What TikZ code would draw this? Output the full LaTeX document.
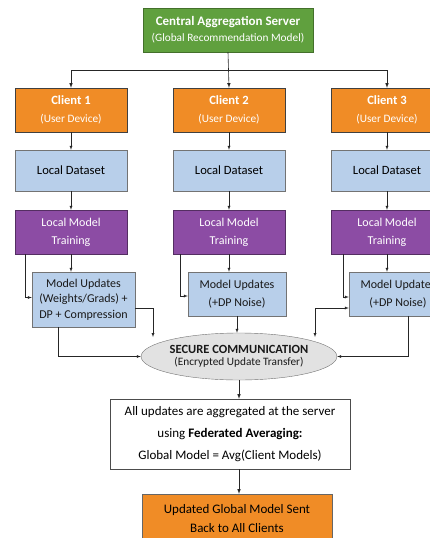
\documentclass[tikz,border=0pt]{standalone}
\usepackage{fontspec}
\setmainfont{Carlito}
\usetikzlibrary{shapes.geometric}
\definecolor{srvgreen}{RGB}{96,160,62}
\definecolor{cliorange}{RGB}{240,140,38}
\definecolor{dsblue}{RGB}{184,207,234}
\definecolor{trpurple}{RGB}{140,76,164}
\definecolor{secgray}{RGB}{226,226,226}
\newcommand{\subline}[1]{{\fontsize{11.3}{14}\selectfont #1}}

\begin{document}
\begin{tikzpicture}[x=1pt,y=-1pt,
  box/.style={draw,rectangle,align=center,inner sep=1pt,font=\fontsize{12}{18}\selectfont},
  srvbox/.style={box,fill=srvgreen,draw=srvgreen!70!black,text=white,minimum width=170pt,minimum height=44pt,font=\fontsize{13}{16}\selectfont},
  clibox/.style={box,fill=cliorange,draw=black!75,text=white,minimum width=112pt,minimum height=44pt,font=\fontsize{12.6}{18}\selectfont},
  dsbox/.style={box,fill=dsblue,draw=black!55,text=black,minimum width=112pt,minimum height=41pt,font=\fontsize{12.6}{18}\selectfont},
  trbox/.style={box,fill=trpurple,draw=trpurple!60!black,text=white,minimum width=112pt,minimum height=44pt},
  upbox/.style={box,fill=dsblue,draw=black!55,text=black!90,minimum width=98pt,minimum height=44pt},
  arr/.style={draw=black!85,thin,-latex},
  arrtwo/.style={draw=black!85,thin,latex-latex}]
\useasboundingbox (0,0) rectangle (430,538);

\node[srvbox] (srv) at (228,30) {\textbf{Central Aggregation Server}\\\subline{(Global Recommendation Model)}};

\foreach \i/\x in {1/71,2/229,3/387}{
\node[clibox] (cl\i) at (\x,110) {\textbf{Client \i}\\\subline{(User Device)}};
\node[dsbox] (ds\i) at (\x,170.5) {Local Dataset};
\node[trbox] (tr\i) at (\x,232) {Local Model\\Training};
}

\node[upbox,minimum width=103pt,minimum height=55pt,font=\fontsize{12}{15.5}\selectfont] (up1) at (83.5,299.5) {Model Updates\\(Weights/Grads) +\\DP + Compression};
\node[upbox] (up2) at (237,294) {Model Updates\\(+DP Noise)};
\node[upbox] (up3) at (398,294) {Model Updates\\(+DP Noise)};

\node[ellipse,draw=black!55,fill=secgray,minimum width=184pt,minimum height=47pt,inner sep=0pt,align=center,text=black!90] (sec) at (239,356.5)
  {\fontsize{12.5}{16}\selectfont\textbf{SECURE COMMUNICATION}\\\fontsize{11.3}{14}\selectfont(Encrypted Update Transfer)};

\node[box,fill=white,draw=black!70,minimum width=240pt,minimum height=70pt,font=\fontsize{13}{22}\selectfont] (agg) at (230,434)
  {All updates are aggregated at the server\\using \textbf{Federated Averaging:}\\Global Model = Avg(Client Models)};

\node[box,fill=cliorange,draw=black!60,minimum width=190pt,minimum height=50pt,font=\fontsize{13}{19}\selectfont] (fin) at (237,519)
  {Updated Global Model Sent\\Back to All Clients};

\coordinate (e1) at (153,337);
\coordinate (e3) at (315,337);

\draw[arr,semithick] (srv.south) -- (cl2.north);
\draw[arr,semithick] (srv.south) ++(0,18) -| (cl1.north);
\draw[arr,semithick] (srv.south) ++(0,18) -| (cl3.north);

\foreach \i in {1,2,3}{
\draw[arr] (cl\i) -- (ds\i);
\draw[arr] (ds\i) -- (tr\i);
\draw[arr] (tr\i.south) -- (tr\i.south |- up\i.north);
}
\draw[arr] ([xshift=10]tr1.south west) |- ([yshift=2]up1.west);
\draw[arr] ([xshift=7]tr2.south west) |- ([yshift=-2]up2.west);
\draw[arr] ([xshift=12]tr3.south west) |- ([yshift=-3]up3.west);

\draw[arr] ([yshift=-8.5]up1.east) -| (e1);
\draw[arrtwo] (e3) |- ([yshift=-14]up3.west);

\draw[arr] ([xshift=-25.5]up1.south) |- (sec.west);
\draw[arr] (up2.south) -- (up2.south |- sec.north);
\draw[arr] ([xshift=10]up3.south) |- (sec.east);

\draw[arr,semithick] (sec.south) -- (sec.south |- agg.north);
\draw[arr,semithick] (sec.south |- agg.south) -- (sec.south |- fin.north);
\end{tikzpicture}
\end{document}
